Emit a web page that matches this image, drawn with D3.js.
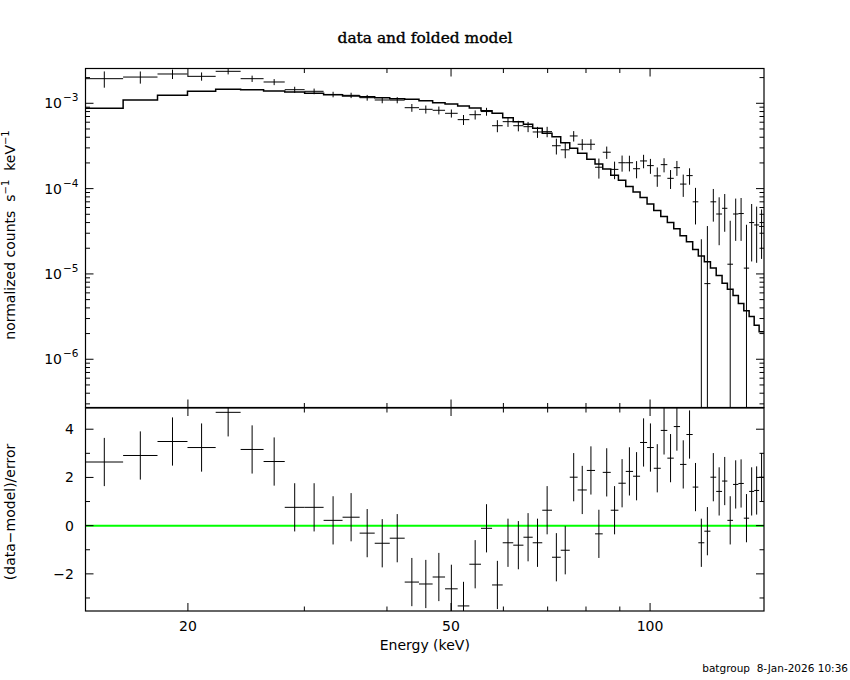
<!DOCTYPE html>
<html>
<head>
<meta charset="utf-8">
<script src="https://cdn.jsdelivr.net/npm/d3@7/dist/d3.min.js"></script>
<style>
  html, body { margin: 0; padding: 0; background: #fff; }
  svg { display: block; }
  text { font-family: "DejaVu Sans", sans-serif; fill: #000; }
</style>
</head>
<body>
<svg id="chart" width="850" height="680"></svg>
<script>
// ---------------- data ----------------
const binEdges = [14.0, 15.96, 17.99, 19.97, 22.03, 24.03, 26.03, 28.02, 30.03, 32.08,
  34.27, 36.37, 38.33, 40.39, 42.55, 44.72, 46.9, 48.97, 51.17, 53.29,
  55.5, 57.68, 59.86, 62.1, 64.34, 66.45, 68.7, 71.07, 73.26, 75.6,
  77.71, 80.23, 82.56, 84.8, 87.2, 89.56, 91.88, 94.25, 96.58, 98.96,
  101.3, 103.8, 106.2, 108.6, 111.0, 113.5, 116.0, 118.3, 120.8, 123.4,
  125.9, 128.5, 130.9, 133.5, 136.0, 138.6, 141.2, 143.7, 146.2, 148.7];

const modelValues = [8.74e-4, 1.093e-3, 1.241e-3, 1.382e-3, 1.459e-3, 1.443e-3, 1.393e-3, 1.356e-3, 1.31e-3, 1.261e-3,
  1.218e-3, 1.195e-3, 1.163e-3, 1.128e-3, 1.114e-3, 1.073e-3, 1.016e-3, 9.81e-4, 9.30e-4, 8.81e-4,
  8.19e-4, 7.63e-4, 6.78e-4, 6.09e-4, 5.67e-4, 5.09e-4, 4.45e-4, 4.06e-4, 3.45e-4, 2.97e-4,
  2.59e-4, 2.21e-4, 1.94e-4, 1.70e-4, 1.43e-4, 1.25e-4, 1.06e-4, 9.1e-5, 7.85e-5, 6.6e-5,
  5.55e-5, 4.7e-5, 4.0e-5, 3.38e-5, 2.8e-5, 2.38e-5, 1.94e-5, 1.62e-5, 1.39e-5, 1.17e-5,
  9.6e-6, 7.8e-6, 6.6e-6, 5.6e-6, 4.5e-6, 3.7e-6, 3.16e-6, 2.5e-6, 2.1e-6];

const dataValues = [1.943e-3, 2.03e-3, 2.205e-3, 2.07e-3, 2.37e-3, 1.943e-3, 1.777e-3, 1.443e-3, 1.382e-3, 1.27e-3,
  1.24e-3, 1.163e-3, 1.093e-3, 1.09e-3, 8.88e-4, 8.50e-4, 8.28e-4, 7.63e-4, 6.43e-4, 7.35e-4,
  8.0e-4, 5.46e-4, 6.09e-4, 5.46e-4, 5.32e-4, 4.61e-4, 4.65e-4, 3.18e-4, 2.85e-4, 4.14e-4,
  3.31e-4, 3.31e-4, 1.78e-4, 2.67e-4, 1.68e-4, 2.01e-4, 2.01e-4, 1.71e-4, 2.11e-4, 1.86e-4,
  1.41e-4, 1.91e-4, 1.32e-4, 1.76e-4, 1.13e-4, 1.42e-4, 7.0e-5, -6.5e-6, 7.7e-6, 7.0e-5,
  5.04e-5, 5.88e-5, 1.3e-5, 5.04e-5, 5.1e-5, 1.17e-5, 4.0e-5, 3.75e-5, 3.6e-5];

const dataErrors = [4.2e-4, 3.3e-4, 2.8e-4, 2.3e-4, 1.9e-4, 1.65e-4, 1.45e-4, 1.2e-4, 1.05e-4, 9.5e-5,
  9.0e-5, 9.0e-5, 9.2e-5, 9.0e-5, 9.3e-5, 9.2e-5, 8.8e-5, 8.3e-5, 8.6e-5, 9.0e-5,
  8.5e-5, 8.8e-5, 8.0e-5, 7.7e-5, 7.3e-5, 6.8e-5, 6.5e-5, 6.7e-5, 5.8e-5, 5.8e-5,
  4.9e-5, 4.8e-5, 4.7e-5, 4.4e-5, 3.9e-5, 4.3e-5, 4.2e-5, 3.9e-5, 3.8e-5, 3.7e-5,
  3.6e-5, 3.6e-5, 3.3e-5, 3.5e-5, 3.3e-5, 3.1e-5, 3.2e-5, 3.2e-5, 2.87e-5, 2.9e-5,
  2.87e-5, 2.76e-5, 2.9e-5, 2.6e-5, 2.66e-5, 2.6e-5, 2.6e-5, 2.4e-5, 2.1e-5];

const residuals = [2.64, 2.91, 3.49, 3.24, 4.70, 3.16, 2.66, 0.76, 0.76, 0.22,
  0.35, -0.31, -0.73, -0.52, -2.34, -2.42, -2.13, -2.62, -3.33, -1.60,
  -0.11, -2.46, -0.71, -0.81, -0.48, -0.71, 0.64, -1.31, -1.02, 2.01,
  1.48, 2.29, -0.34, 2.21, 0.64, 1.76, 2.25, 2.05, 3.45, 3.24,
  2.38, 3.95, 2.80, 4.11, 2.54, 3.78, 1.60, -0.71, -0.23, 2.01,
  1.42, 1.85, 0.22, 1.71, 1.75, 0.31, 1.42, 1.46, 2.01];

const xMajorTicks = [20, 50, 100];
const xMinorTicks = [30, 40, 60, 70, 80, 90];
const yTopMajorTicks = [1e-3, 1e-4, 1e-5, 1e-6];
const yTopTickExponents = ["\u22123", "\u22124", "\u22125", "\u22126"];
const yBotMajorTicks = [-2, 0, 2, 4];
const yBotMinorTicks = [-3, -1, 1, 3];

const titleText = "data and folded model";
const xLabelText = "Energy (keV)";
const yBotLabelText = "(data\u2212model)/error";
const footerText = "batgroup  8-Jan-2026 10:36";

// ---------------- layout ----------------
const L = 85.5, R = 764;
const T1 = 68.5, B1 = 407.5, T2 = 408, B2 = 611;

const x = d3.scaleLog().domain([14, 148.7]).range([L, R]);
const yTop = d3.scaleLog().domain([2.72e-7, 2.557e-3]).range([B1, T1]);
const yBot = d3.scaleLinear().domain([-3.54, 4.88]).range([B2, T2]);

const svg = d3.select("#chart");

const defs = svg.append("defs");
defs.append("clipPath").attr("id", "clipTop").append("rect")
  .attr("x", L).attr("y", T1).attr("width", R - L).attr("height", B1 - T1);
defs.append("clipPath").attr("id", "clipBot").append("rect")
  .attr("x", L).attr("y", T2).attr("width", R - L).attr("height", B2 - T2);

const bins = modelValues.map((m, i) => ({
  lo: binEdges[i], hi: binEdges[i + 1],
  mid: Math.sqrt(binEdges[i] * binEdges[i + 1]),
  model: m, data: dataValues[i], err: dataErrors[i], res: residuals[i]
}));

// ---------------- top panel ----------------
const gTop = svg.append("g").attr("clip-path", "url(#clipTop)");

// model histogram
const stepPts = bins.map(b => [b.lo, b.model]).concat([[binEdges[binEdges.length - 1], modelValues[modelValues.length - 1]]]);
gTop.append("path")
  .attr("d", d3.line().x(d => x(d[0])).y(d => yTop(d[1])).curve(d3.curveStepAfter)(stepPts))
  .attr("fill", "none").attr("stroke", "#000").attr("stroke-width", 1.5);

// data crosses
bins.forEach(b => {
  const up = b.data + b.err;
  const lo = b.data - b.err;
  const yUp = yTop(up);
  const yLo = lo > 0 ? yTop(lo) : B1 + 2;
  gTop.append("line").attr("x1", x(b.mid)).attr("x2", x(b.mid))
    .attr("y1", yUp).attr("y2", yLo).attr("stroke", "#000").attr("stroke-width", 1);
  if (b.data > 0) {
    gTop.append("line").attr("x1", x(b.lo)).attr("x2", x(b.hi))
      .attr("y1", yTop(b.data)).attr("y2", yTop(b.data))
      .attr("stroke", "#000").attr("stroke-width", 1);
  }
});

// ---------------- bottom panel ----------------
const gBot = svg.append("g").attr("clip-path", "url(#clipBot)");
gBot.append("line").attr("x1", L).attr("x2", R).attr("y1", yBot(0)).attr("y2", yBot(0))
  .attr("stroke", "#00ff00").attr("stroke-width", 2);
bins.forEach(b => {
  gBot.append("line").attr("x1", x(b.mid)).attr("x2", x(b.mid))
    .attr("y1", yBot(b.res + 1)).attr("y2", yBot(b.res - 1))
    .attr("stroke", "#000").attr("stroke-width", 1);
  gBot.append("line").attr("x1", x(b.lo)).attr("x2", x(b.hi))
    .attr("y1", yBot(b.res)).attr("y2", yBot(b.res))
    .attr("stroke", "#000").attr("stroke-width", 1);
});

// ---------------- frames & ticks ----------------
const gAx = svg.append("g").attr("stroke", "#000").attr("fill", "none");
gAx.append("rect").attr("x", L).attr("y", T1).attr("width", R - L).attr("height", B1 - T1).attr("stroke-width", 1.2);
gAx.append("rect").attr("x", L).attr("y", T2).attr("width", R - L).attr("height", B2 - T2).attr("stroke-width", 1.2);

const MAJ = 8, MIN = 4.5;
function xTicks(top, bottom) {
  xMajorTicks.forEach(v => {
    gAx.append("line").attr("x1", x(v)).attr("x2", x(v)).attr("y1", bottom).attr("y2", bottom - MAJ);
    gAx.append("line").attr("x1", x(v)).attr("x2", x(v)).attr("y1", top).attr("y2", top + MAJ);
  });
  xMinorTicks.forEach(v => {
    gAx.append("line").attr("x1", x(v)).attr("x2", x(v)).attr("y1", bottom).attr("y2", bottom - MIN);
    gAx.append("line").attr("x1", x(v)).attr("x2", x(v)).attr("y1", top).attr("y2", top + MIN);
  });
}
xTicks(T1, B1);
xTicks(T2, B2);

function yTick(yv, len) {
  gAx.append("line").attr("x1", L).attr("x2", L + len).attr("y1", yv).attr("y2", yv);
  gAx.append("line").attr("x1", R).attr("x2", R - len).attr("y1", yv).attr("y2", yv);
}
// log minor ticks in the top panel
const [yMin, yMax] = yTop.domain();
for (let e = -7; e <= -3; e++) {
  for (let m = 1; m <= 9; m++) {
    const v = m * Math.pow(10, e);
    if (v < yMin || v > yMax) continue;
    yTick(yTop(v), m === 1 ? MAJ : MIN);
  }
}
yBotMajorTicks.forEach(v => yTick(yBot(v), MAJ));
yBotMinorTicks.forEach(v => yTick(yBot(v), MIN));

// ---------------- text ----------------
svg.append("text").attr("x", 425).attr("y", 43).attr("text-anchor", "middle")
  .attr("textLength", 175).attr("lengthAdjust", "spacingAndGlyphs")
  .style("font-family", "'DejaVu Serif', serif").style("font-size", "14px")
  .style("stroke", "#000").style("stroke-width", 0.35)
  .text(titleText);

xMajorTicks.forEach(v => {
  svg.append("text").attr("x", x(v)).attr("y", 631).attr("text-anchor", "middle")
    .style("font-size", "14px").text(String(v));
});
svg.append("text").attr("x", (L + R) / 2).attr("y", 649.5).attr("text-anchor", "middle")
  .style("font-size", "14px").text(xLabelText);

yTopMajorTicks.forEach((v, i) => {
  svg.append("text").attr("x", 62).attr("y", yTop(v) + 5).attr("text-anchor", "end")
    .style("font-size", "14px").text("10");
  svg.append("text").attr("x", 63).attr("y", yTop(v) - 2).style("font-size", "10.5px").text(yTopTickExponents[i]);
});

yBotMajorTicks.forEach(v => {
  svg.append("text").attr("x", 74).attr("y", yBot(v) + 5).attr("text-anchor", "end")
    .style("font-size", "14px").text(v < 0 ? "\u2212" + Math.abs(v) : String(v));
});

// y label top
const yl = svg.append("text").attr("transform", "translate(15,235) rotate(-90)")
  .attr("text-anchor", "middle").style("font-size", "14px").style("white-space", "pre");
yl.append("tspan").text("normalized counts  s");
yl.append("tspan").attr("dy", -6).style("font-size", "10px").text("\u22121");
yl.append("tspan").attr("dy", 6).text("  keV");
yl.append("tspan").attr("dy", -6).style("font-size", "10px").text("\u22121");

svg.append("text").attr("transform", "translate(15,512) rotate(-90)")
  .attr("text-anchor", "middle").style("font-size", "14px").text(yBotLabelText);

svg.append("text").attr("x", 848).attr("y", 672).attr("text-anchor", "end")
  .style("font-size", "10.5px").style("white-space", "pre").text(footerText);
</script>
</body>
</html>
